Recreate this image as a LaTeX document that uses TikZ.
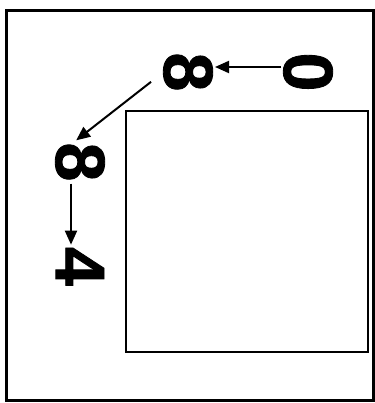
\documentclass[tikz,border=0pt]{standalone}
\usepackage{fontspec}
\usepackage{graphicx}
\setmainfont{Liberation Sans}
\newfontfamily\digitfont{Liberation Sans}[FakeBold=1.2]
\usetikzlibrary{arrows.meta,positioning}

\begin{document}
\begin{tikzpicture}[
  x=1pt, y=-1pt,
  >={Triangle[length=14pt,width=12pt]},
  digit/.style={
    inner sep=2pt,
    font=\fontsize{70}{70}\digitfont\bfseries
  },
  link/.style={->, line width=2pt}
]
  \useasboundingbox (0,0) rectangle (374,403);

  % Outer frame and inner square
  \draw[line width=3pt] (6,11) rectangle (373,400);
  \draw[line width=1.2pt] (126,111) rectangle (368,352);

  % Rotated digits
  \node[digit] (zero) at (308,72) {\rotatebox{-90}{0}};
  \node[digit, left=66pt of zero] (eightTop) {\rotatebox{-90}{8}};
  \node[digit] (eightLeft) at (80,162) {\rotatebox{-90}{8}};
  \node[digit, below=61pt of eightLeft] (four) {\rotatebox{-90}{4}};

  % Arrows
  \draw[link] ([yshift=5pt]zero.west) -- ([yshift=5pt]eightTop.east);
  \draw[link] ([xshift=-10pt]eightTop.200) -- (eightLeft.100);
  \draw[link] ([xshift=-9pt]eightLeft.south) -- ([xshift=-9pt]four.north);

\end{tikzpicture}
\end{document}
